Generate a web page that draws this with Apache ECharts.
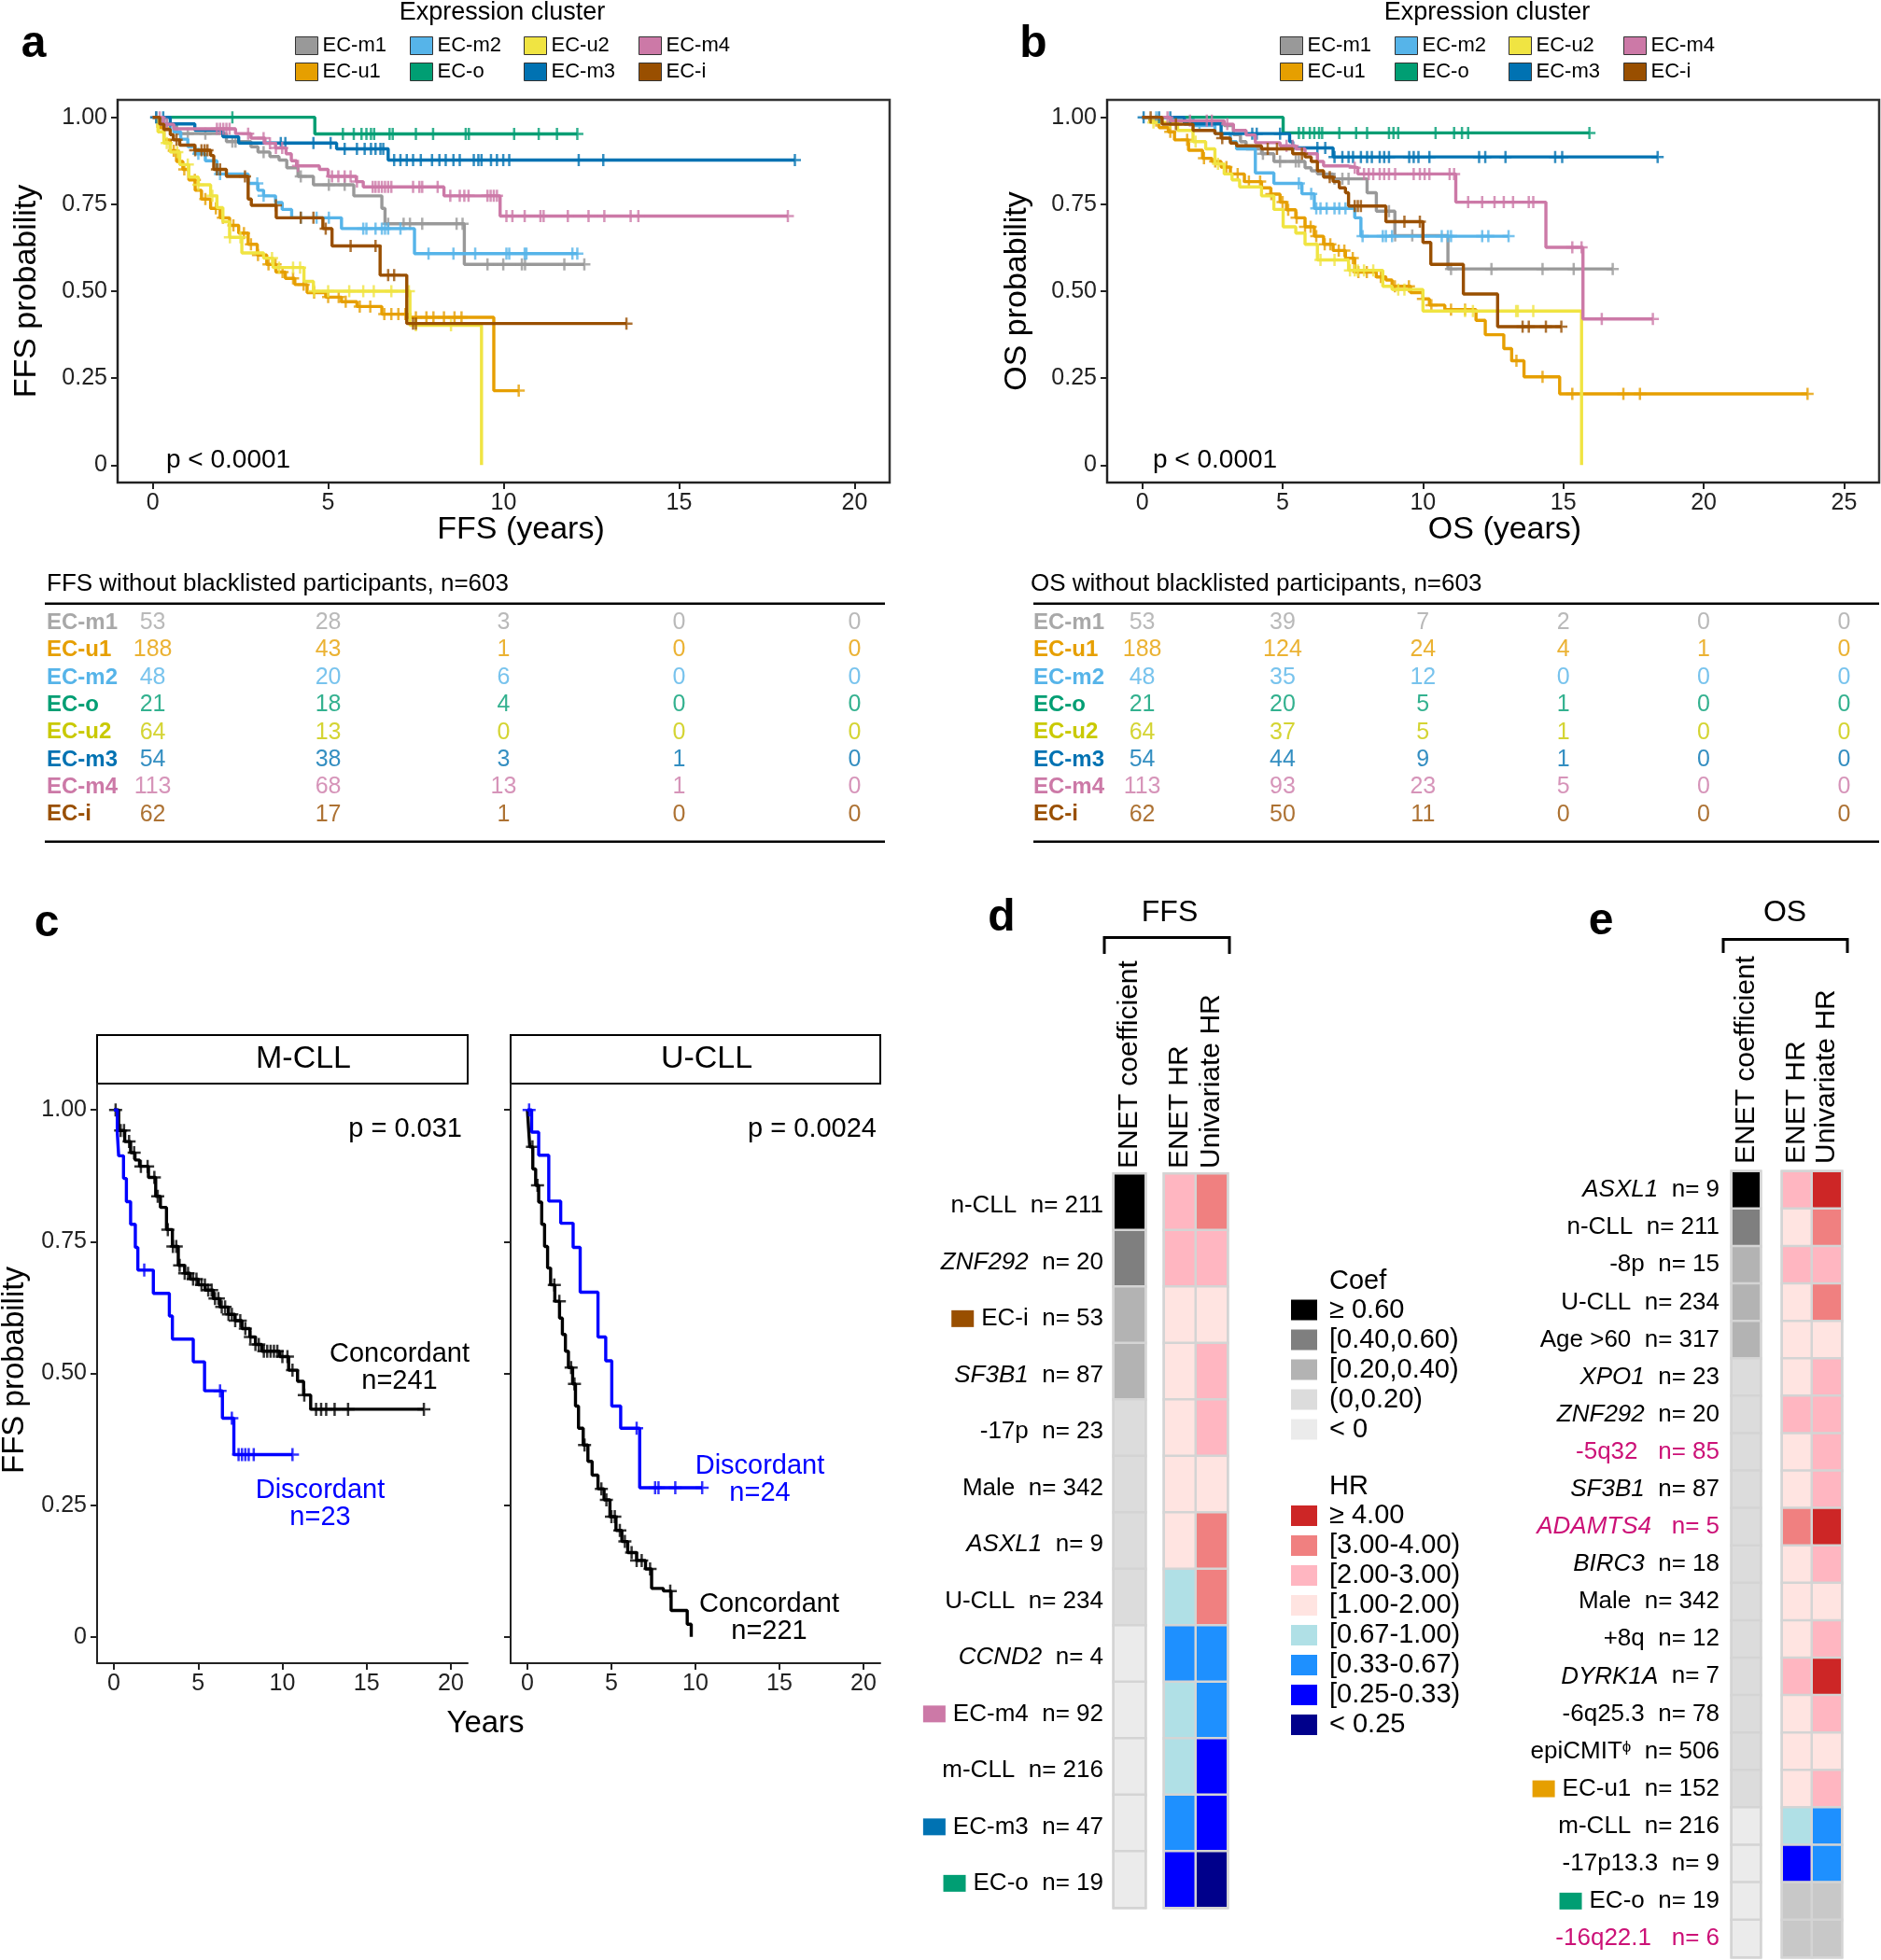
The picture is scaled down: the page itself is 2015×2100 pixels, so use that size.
<!DOCTYPE html>
<html><head><meta charset="utf-8">
<script src="https://cdn.jsdelivr.net/npm/echarts@6/dist/echarts.min.js"></script>
<style>html,body{margin:0;padding:0;background:#fff}#c{width:2015px;height:2100px}</style>
</head><body><div id="c"></div>
<script>
// ---------------- DATA ----------------
const CLUSTERS = ['EC-m1','EC-u1','EC-m2','EC-o','EC-u2','EC-m3','EC-m4','EC-i'];
const CL_COLORS = ['#999999','#E69F00','#56B4E9','#009E73','#F0E442','#0072B2','#CC79A7','#994F00'];
const TABLE_COLORS = ['#A8A8A8','#E69F00','#56B4E9','#009E73','#C9C900','#0072B2','#CC79A7','#994F00'];

// Panel a: FFS Kaplan-Meier (time in years, survival, censor times)
const FFS_M1_T = [0,0.3,0.68,2.1,2.8,3.0,3.34,3.6,3.82,4.14,4.58,5.73,6.53,6.62,8.88];
const FFS_M1_S = [1,0.98,0.953,0.93,0.915,0.9,0.887,0.877,0.855,0.83,0.806,0.774,0.738,0.694,0.577];
const FFS_M1_C = [0.1,0.4,1.0,1.5,2.27,2.36,3.16,4.22,5.02,5.47,6.71,7.15,7.33,7.68,8.66,8.83,9.54,9.99,10.52,10.61,11.73,12.3];
const FFS_U1_T = [0,0.15,0.32,0.5,0.68,0.86,1.03,1.21,1.39,1.65,1.92,2.19,2.45,2.72,2.98,3.25,3.51,3.78,4.05,4.4,4.93,5.38,5.82,6.53,7.24,9.72];
const FFS_U1_S = [1,0.97,0.935,0.904,0.873,0.85,0.82,0.79,0.765,0.738,0.711,0.689,0.667,0.635,0.604,0.577,0.555,0.537,0.519,0.496,0.483,0.47,0.456,0.434,0.425,0.214];
const FFS_U1_C = [0.3,0.6,0.9,1.2,1.5,1.8,2.0,2.3,2.6,2.8,3.0,3.3,3.5,3.7,4.0,4.3,4.6,5.0,5.3,5.5,5.9,6.2,6.6,6.8,7.0,7.2,7.5,7.8,8.0,8.3,8.6,8.8,10.43];
const FFS_M2_T = [0,0.3,0.6,0.8,1.0,1.2,1.5,1.83,2.72,3.0,3.16,3.5,3.69,3.96,5.38,7.46];
const FFS_M2_S = [1,0.979,0.958,0.937,0.916,0.895,0.875,0.837,0.81,0.79,0.774,0.755,0.735,0.711,0.68,0.608];
const FFS_M2_C = [1.3,1.92,2.98,3.16,4.22,4.67,5.02,6.0,6.09,6.35,6.53,6.62,6.71,7.06,7.86,8.57,9.19,10.08,10.16,10.6,10.65,11.96,12.1];
const FFS_O_T = [0,4.62];
const FFS_O_S = [1,0.952];
const FFS_O_C = [2.27,5.42,5.73,5.95,6.09,6.22,6.31,6.75,6.84,7.5,7.99,8.92,9.01,10.3,11.0,11.52,12.1];
const FFS_U2_T = [0,0.15,0.32,0.5,0.77,1.03,1.3,1.65,1.83,2.0,2.19,2.54,3.16,3.43,4.31,4.58,7.33,9.37];
const FFS_U2_S = [1,0.958,0.926,0.9,0.864,0.828,0.806,0.774,0.74,0.70,0.655,0.61,0.595,0.568,0.528,0.5,0.402,0];
const FFS_U2_C = [0.4,0.7,1.0,1.3,1.7,2.2,2.5,3.4,3.6,4.0,4.2,4.6,5.0,5.6,6.0,6.3,6.8,7.3,7.5,8.5];
const FFS_M3_T = [0,0.5,1.2,2.0,2.45,5.24,6.71];
const FFS_M3_S = [1,0.981,0.963,0.944,0.926,0.909,0.877];
const FFS_M3_C = [0.1,0.3,0.5,3.65,3.78,4.58,5.07,5.47,5.82,6.04,6.22,6.35,6.49,6.57,6.88,7.06,7.24,7.42,7.64,7.96,8.17,8.35,8.57,8.75,9.15,9.28,9.37,9.64,9.81,9.99,10.16,12.14,12.84,18.3];
const FFS_M4_T = [0,0.3,0.6,2.36,2.8,3.2,3.5,3.8,3.95,4.1,4.75,5.0,5.8,6.0,8.3,9.9];
const FFS_M4_S = [1,0.98,0.967,0.953,0.94,0.925,0.912,0.895,0.875,0.86,0.85,0.83,0.815,0.80,0.774,0.716];
const FFS_M4_C = [0.2,0.4,1.83,1.92,2.01,2.1,2.19,2.72,3.16,3.34,3.51,3.69,4.14,5.11,5.29,5.47,5.64,5.82,6.27,6.35,6.44,6.53,6.62,6.71,6.8,7.42,7.6,7.68,8.12,8.48,8.75,8.88,9.0,9.54,9.63,9.72,9.81,10.08,10.25,10.6,11.05,11.14,11.83,12.42,12.87,13.62,13.84,18.1];
const FFS_I_T = [0,0.2,0.32,0.5,0.59,0.77,1.2,1.65,1.74,2.1,2.72,2.81,3.52,4.85,5.11,6.48,7.24];
const FFS_I_S = [1,0.98,0.965,0.95,0.935,0.92,0.905,0.89,0.85,0.83,0.765,0.747,0.711,0.68,0.63,0.546,0.407];
const FFS_I_C = [0.68,1.21,1.39,1.48,1.56,1.83,1.92,2.63,3.51,4.22,4.58,4.93,5.64,6.35,6.71,6.88,7.42,7.5,13.5];

// Panel b: OS Kaplan-Meier
const OS_M1_T = [0,1.5,2.92,3.25,3.5,3.7,4.25,4.69,5.8,6.02,6.24,6.8,8.01,8.34,9.0,10.89];
const OS_M1_S = [1,0.985,0.976,0.95,0.93,0.909,0.895,0.873,0.855,0.846,0.837,0.823,0.783,0.73,0.66,0.564];
const OS_M1_C = [4.3,4.91,5.47,5.58,6.85,7.13,7.35,8.79,9.01,9.62,11.0,12.44,14.26,15.37,16.76];
const OS_U1_T = [0,0.27,0.6,0.93,1.15,1.65,2.15,2.48,2.81,3.14,3.64,4.25,4.58,4.91,5.14,5.47,5.8,6.13,6.46,6.8,7.24,7.57,8.34,8.68,8.9,9.56,10.0,10.23,10.78,11.89,12.22,12.88,13.16,13.6,14.87];
const OS_U1_S = [1,0.99,0.97,0.958,0.935,0.905,0.882,0.873,0.857,0.837,0.815,0.797,0.779,0.756,0.734,0.711,0.685,0.658,0.635,0.617,0.595,0.555,0.541,0.532,0.514,0.496,0.478,0.46,0.447,0.416,0.375,0.335,0.30,0.254,0.205];
const OS_U1_C = [0.5,1.0,1.6,2.2,2.6,3.0,3.4,3.8,4.2,4.6,5.0,5.2,5.5,5.8,6.0,6.2,6.5,6.7,7.0,7.2,7.5,7.7,8.0,8.5,9.0,9.5,10.0,10.3,11.0,11.5,13.33,14.26,15.32,17.14,17.73,23.7];
const OS_M2_T = [0,1.81,2.59,3.14,3.36,4.03,4.69,5.69,6.13,7.57,7.79];
const OS_M2_S = [1,0.976,0.953,0.93,0.909,0.84,0.81,0.78,0.738,0.711,0.658];
const OS_M2_C = [0.5,2.04,5.58,6.02,6.2,6.35,6.57,6.85,7.02,7.24,7.85,8.57,8.68,8.9,10.0,10.67,10.89,11.0,12.11,12.33,13.05];
const OS_O_T = [0,5.02];
const OS_O_S = [1,0.955];
const OS_O_C = [5.58,5.74,5.97,6.13,6.3,6.41,7.02,7.62,8.01,8.79,8.95,9.12,10.45,11.11,11.39,11.61,15.93];
const OS_U2_T = [0,0.3,1.26,1.81,2.26,2.59,2.92,3.2,3.47,4.25,4.69,5.02,5.47,5.8,6.24,7.35,8.57,8.9,10.0,15.65];
const OS_U2_S = [1,0.985,0.962,0.93,0.909,0.866,0.837,0.82,0.80,0.774,0.735,0.685,0.667,0.635,0.59,0.56,0.514,0.505,0.443,0];
const OS_U2_C = [0.4,1.0,1.9,2.7,6.35,6.85,7.4,7.57,7.68,7.9,8.23,9.12,9.34,11.5,11.78,13.32,13.38,13.93];
const OS_M3_T = [0,1.5,2.81,5.25,5.36,6.8];
const OS_M3_S = [1,0.981,0.953,0.93,0.912,0.886];
const OS_M3_C = [0.05,0.6,1.0,3.92,4.08,4.91,6.24,6.52,6.85,7.13,7.35,7.51,7.79,8.01,8.18,8.46,8.62,8.79,9.51,9.67,9.84,10.23,12.0,12.22,12.94,14.71,14.96,18.36];
const OS_M4_T = [0,1.0,2.92,3.25,3.7,4.03,4.91,5.47,5.8,6.24,6.46,7.35,7.68,11.17,14.38,15.7];
const OS_M4_S = [1,0.99,0.98,0.962,0.949,0.927,0.918,0.909,0.895,0.873,0.86,0.855,0.837,0.756,0.626,0.42];
const OS_M4_C = [0.9,1.7,2.3,2.48,3.03,5.14,5.36,7.57,7.9,8.07,8.23,8.46,8.62,8.79,9.01,9.67,9.89,10.06,10.23,10.95,11.11,11.61,12.11,12.55,12.88,13.21,13.77,13.93,15.32,15.65,16.37,18.19];
const OS_I_T = [0,0.71,1.81,2.59,2.81,3.14,3.36,4.25,5.36,5.8,6.02,6.24,6.46,6.8,7.02,7.24,7.35,8.68,10.0,10.28,11.44,12.66];
const OS_I_S = [1,0.98,0.962,0.953,0.94,0.926,0.918,0.909,0.895,0.886,0.873,0.846,0.828,0.815,0.797,0.783,0.745,0.70,0.64,0.577,0.492,0.398];
const OS_I_C = [0.3,1.2,2.85,4.47,4.8,5.69,6.68,7.57,7.68,7.79,9.34,9.89,13.55,13.77,14.38,14.93];

// Numbers at risk
const FFS_RISK_TIMES = [0,5,10,15,20];
const FFS_RISK = [[53,28,3,0,0],[188,43,1,0,0],[48,20,6,0,0],[21,18,4,0,0],[64,13,0,0,0],[54,38,3,1,0],[113,68,13,1,0],[62,17,1,0,0]];
const OS_RISK_TIMES = [0,5,10,15,20,25];
const OS_RISK = [[53,39,7,2,0,0],[188,124,24,4,1,0],[48,35,12,0,0,0],[21,20,5,1,0,0],[64,37,5,1,0,0],[54,44,9,1,0,0],[113,93,23,5,0,0],[62,50,11,0,0,0]];

// Panel c: M-CLL / U-CLL concordant vs discordant
const M_CON_T = [0,0.28,0.64,0.99,1.25,1.52,2.05,2.48,2.76,3.12,3.47,3.82,4.2,4.53,5.0,5.42,5.9,6.3,6.8,7.19,7.6,8.07,8.4,8.78,9.84,10.37,10.9,11.26,11.68];
const M_CON_S = [1,0.961,0.94,0.919,0.905,0.893,0.872,0.836,0.815,0.773,0.741,0.705,0.69,0.679,0.668,0.658,0.642,0.626,0.612,0.60,0.585,0.569,0.555,0.542,0.532,0.506,0.485,0.459,0.432];
const M_CON_C = [0.1,0.4,0.6,0.9,1.2,1.6,2.0,2.4,2.6,3.2,3.5,3.7,3.9,4.2,4.4,4.7,4.9,5.2,5.4,5.6,5.8,6.0,6.2,6.4,6.6,6.8,7.0,7.2,7.5,7.8,8.1,8.4,8.6,8.9,9.1,9.3,9.5,9.7,10.0,10.3,10.6,11.3,12.0,12.3,12.6,13.1,13.9,18.4];
const M_DIS_T = [0,0.2,0.28,0.57,0.74,0.99,1.27,1.42,2.34,3.29,3.47,4.71,5.38,6.44,7.12];
const M_DIS_S = [1,0.957,0.913,0.870,0.826,0.783,0.739,0.696,0.652,0.609,0.565,0.522,0.467,0.415,0.346];
const M_DIS_C = [1.8,6.3,7.0,7.4,7.6,7.8,8.0,8.3,10.6];
const U_CON_T = [0,0.07,0.14,0.32,0.49,0.67,0.85,1.02,1.2,1.38,1.63,1.91,2.08,2.26,2.44,2.69,2.86,3.04,3.32,3.6,3.85,4.2,4.56,4.91,5.27,5.62,5.97,6.5,7.03,7.39,8.09,8.55,9.51,9.75];
const U_CON_S = [1,0.965,0.93,0.888,0.857,0.825,0.783,0.741,0.70,0.668,0.637,0.605,0.574,0.542,0.511,0.48,0.438,0.396,0.364,0.333,0.307,0.281,0.26,0.228,0.202,0.181,0.16,0.145,0.129,0.092,0.087,0.05,0.024,0];
const U_CON_C = [0.3,0.6,1.6,1.9,2.6,2.8,3.4,4.4,4.7,5.0,5.2,5.5,5.8,6.2,6.5,6.8,7.3,8.5];
const U_DIS_T = [0,0.25,0.67,1.27,1.98,2.72,3.14,4.2,4.66,5.02,5.55,6.68];
const U_DIS_S = [1,0.958,0.914,0.827,0.785,0.739,0.654,0.569,0.524,0.438,0.396,0.283];
const U_DIS_C = [0.1,6.5,7.6,7.8,8.8,10.4];

// Panel d: FFS heatmap (classes: coef 0..4 ; HR 0..7 ; -1 = NA)
const FFS_VARS = ['n-CLL','ZNF292','EC-i','SF3B1','-17p','Male','ASXL1','U-CLL','CCND2','EC-m4','m-CLL','EC-m3','EC-o'];
const FFS_N = [211,20,53,87,23,342,9,234,4,92,216,47,19];
const FFS_COEF = [0,1,2,2,3,3,3,3,4,4,4,4,4];
const FFS_ENET = [2,2,3,3,3,3,3,4,5,4,4,5,6];
const FFS_UNI = [1,2,3,2,2,3,1,1,5,5,6,6,7];
// Panel e: OS heatmap
const OS_VARS = ['ASXL1','n-CLL','-8p','U-CLL','Age >60','XPO1','ZNF292','-5q32','SF3B1','ADAMTS4','BIRC3','Male','+8q','DYRK1A','-6q25.3','epiCMIT','EC-u1','m-CLL','-17p13.3','EC-o','-16q22.1'];
const OS_N = [9,211,15,234,317,23,20,85,87,5,18,342,12,7,78,506,152,216,9,19,6];
const OS_COEF = [0,1,2,2,2,3,3,3,3,3,3,3,3,3,3,3,3,4,4,4,4];
const OS_ENET = [2,3,2,3,3,3,2,3,3,1,3,3,3,2,3,3,3,4,6,-1,-1];
const OS_UNI = [0,1,2,1,3,2,2,2,2,0,2,3,2,0,2,3,2,5,5,-1,-1];
const GENES = ['ZNF292','SF3B1','ASXL1','CCND2','XPO1','ADAMTS4','BIRC3','DYRK1A'];
const HIGHLIGHT = ['-5q32','ADAMTS4','-16q22.1'];
const HM_COLS_COEF = ['ENET coefficient'];
const HM_COLS_HR = ['ENET HR','Univariate HR'];
const COEF_LABELS = ['≥ 0.60','[0.40,0.60)','[0.20,0.40)','(0,0.20)','< 0'];
const COEF_COLORS = ['#000000','#7F7F7F','#B3B3B3','#DCDCDC','#EBEBEB'];
const HR_LABELS = ['≥ 4.00','[3.00-4.00)','[2.00-3.00)','[1.00-2.00)','[0.67-1.00)','[0.33-0.67)','[0.25-0.33)','< 0.25'];
const HR_COLORS = ['#CD2626','#F08080','#FFB6C1','#FFE4E1','#B0E0E6','#1E90FF','#0000FF','#00008B'];

// ---------------- BUILD ----------------
const F = "'Liberation Sans', Arial, Helvetica, sans-serif";
const PLUS = 'path://M0,6L12,6M6,0L6,12';
const FFS_CURVES = [[FFS_M1_T,FFS_M1_S,FFS_M1_C],[FFS_U1_T,FFS_U1_S,FFS_U1_C],[FFS_M2_T,FFS_M2_S,FFS_M2_C],[FFS_O_T,FFS_O_S,FFS_O_C],[FFS_U2_T,FFS_U2_S,FFS_U2_C],[FFS_M3_T,FFS_M3_S,FFS_M3_C],[FFS_M4_T,FFS_M4_S,FFS_M4_C],[FFS_I_T,FFS_I_S,FFS_I_C]];
const OS_CURVES = [[OS_M1_T,OS_M1_S,OS_M1_C],[OS_U1_T,OS_U1_S,OS_U1_C],[OS_M2_T,OS_M2_S,OS_M2_C],[OS_O_T,OS_O_S,OS_O_C],[OS_U2_T,OS_U2_S,OS_U2_C],[OS_M3_T,OS_M3_S,OS_M3_C],[OS_M4_T,OS_M4_S,OS_M4_C],[OS_I_T,OS_I_S,OS_I_C]];

function survAt(T,S,t){let s=S[0];for(let i=0;i<T.length;i++){if(T[i]<=t)s=S[i];else break;}return s;}
function kmData(T,S,C){const d=T.map((t,i)=>[t,S[i]]);const last=T[T.length-1];const end=Math.max(last,...C);if(end>last)d.push([end,S[S.length-1]]);return d;}
function censData(T,S,C){return C.map(t=>[t,survAt(T,S,t)]);}

const series = [];
function addKM(name,curve,color,xi,yi,z,size){
  series.push({type:'line',name,xAxisIndex:xi,yAxisIndex:yi,data:kmData(curve[0],curve[1],curve[2]),step:'end',showSymbol:false,symbol:'none',
    lineStyle:{width:3.4,color},itemStyle:{color},z,emphasis:{disabled:true},silent:true});
  series.push({type:'scatter',name,xAxisIndex:xi,yAxisIndex:yi,data:censData(curve[0],curve[1],curve[2]),symbol:PLUS,symbolSize:size,
    itemStyle:{color:'none',borderColor:color,borderWidth:2.5},z,emphasis:{disabled:true},silent:true});
}
CLUSTERS.forEach((n,k)=>addKM(n,FFS_CURVES[k],CL_COLORS[k],0,0,2+k,13));
CLUSTERS.forEach((n,k)=>addKM(n,OS_CURVES[k],CL_COLORS[k],1,1,2+k,13));
// risk tables
CLUSTERS.forEach((n,k)=>{
  series.push({type:'scatter',name:'riskFFS',xAxisIndex:2,yAxisIndex:2,data:FFS_RISK_TIMES.map((t,j)=>[t,n,FFS_RISK[k][j]]),
    symbolSize:1,itemStyle:{color:'transparent'},silent:true,
    label:{show:true,position:'inside',formatter:p=>String(p.value[2]),color:TABLE_COLORS[k],fontSize:25,fontFamily:F}});
  series.push({type:'scatter',name:'riskOS',xAxisIndex:3,yAxisIndex:3,data:OS_RISK_TIMES.map((t,j)=>[t,n,OS_RISK[k][j]]),
    symbolSize:1,itemStyle:{color:'transparent'},silent:true,
    label:{show:true,position:'inside',formatter:p=>String(p.value[2]),color:TABLE_COLORS[k],fontSize:25,fontFamily:F}});
});
// panel c
addKM('M Concordant',[M_CON_T,M_CON_S,M_CON_C],'#000000',4,4,3,14);
addKM('M Discordant',[M_DIS_T,M_DIS_S,M_DIS_C],'#0000FF',4,4,4,14);
addKM('U Concordant',[U_CON_T,U_CON_S,U_CON_C],'#000000',5,5,3,14);
addKM('U Discordant',[U_DIS_T,U_DIS_S,U_DIS_C],'#0000FF',5,5,4,14);
// heatmaps
const hmStyle = {borderColor:'#D4D4D4',borderWidth:2.5};
const iD1 = series.length;
series.push({type:'heatmap',name:'ffsCoef',xAxisIndex:6,yAxisIndex:6,data:FFS_VARS.map((v,i)=>[0,i,FFS_COEF[i]]),itemStyle:hmStyle,emphasis:{disabled:true},silent:true});
const iD2 = series.length;
series.push({type:'heatmap',name:'ffsHR',xAxisIndex:7,yAxisIndex:7,data:FFS_VARS.flatMap((v,i)=>[[0,i,FFS_ENET[i]],[1,i,FFS_UNI[i]]]),itemStyle:hmStyle,emphasis:{disabled:true},silent:true});
const iE1 = series.length;
series.push({type:'heatmap',name:'osCoef',xAxisIndex:8,yAxisIndex:8,data:OS_VARS.map((v,i)=>[0,i,OS_COEF[i]]),itemStyle:hmStyle,emphasis:{disabled:true},silent:true});
const iE2 = series.length;
series.push({type:'heatmap',name:'osHR',xAxisIndex:9,yAxisIndex:9,data:OS_VARS.flatMap((v,i)=>[[0,i,OS_ENET[i]],[1,i,OS_UNI[i]]]),itemStyle:hmStyle,emphasis:{disabled:true},silent:true});

// axes helpers
const AX = '#222';
function kmX(g,min,max,ticks,show=true){return {type:'value',gridIndex:g,min,max,show,
  axisLine:{show:true,onZero:false,lineStyle:{color:AX,width:2}},
  axisTick:{show:true,length:7,lineStyle:{color:AX,width:2},customValues:ticks},
  axisLabel:{customValues:ticks,fontSize:25,fontFamily:F,color:AX,margin:10},splitLine:{show:false}};}
const YT=[0,0.25,0.5,0.75,1];
function kmY(g,labels){return {type:'value',gridIndex:g,min:-0.05,max:1.05,
  axisLine:{show:true,onZero:false,lineStyle:{color:AX,width:2}},
  axisTick:{show:true,length:7,lineStyle:{color:AX,width:2},customValues:YT},
  axisLabel:{show:labels,customValues:YT,formatter:v=>v===0?'0':v.toFixed(2),fontSize:25,fontFamily:F,color:AX,margin:11},splitLine:{show:false}};}

const tableRich = {};
TABLE_COLORS.forEach((c,k)=>{tableRich['r'+k]={color:c,fontWeight:'bold',fontSize:24,fontFamily:F};});
function tableY(g,margin){return {type:'category',gridIndex:g,data:CLUSTERS,inverse:true,axisLine:{show:false},axisTick:{show:false},splitLine:{show:false},
  axisLabel:{align:'left',margin,formatter:(v,i)=>'{r'+i+'|'+v+'}',rich:tableRich}};}

const SW = {'EC-i':['swi','#994F00'],'EC-m4':['swm4','#CC79A7'],'EC-m3':['swm3','#0072B2'],'EC-o':['swo','#009E73'],'EC-u1':['swu1','#E69F00']};
const rowRich = {
  t:{fontSize:26,fontFamily:F,color:'#000',verticalAlign:'middle'},
  it:{fontSize:26,fontFamily:F,fontStyle:'italic',color:'#000',verticalAlign:'middle'},
  mg:{fontSize:26,fontFamily:F,color:'#CC1177',verticalAlign:'middle'},
  mgit:{fontSize:26,fontFamily:F,fontStyle:'italic',color:'#CC1177',verticalAlign:'middle'},
  sup:{fontSize:17,fontFamily:F,color:'#000',verticalAlign:'top'},
  gap:{width:8}
};
Object.values(SW).forEach(([k,c])=>{rowRich[k]={width:24,height:18,backgroundColor:c,verticalAlign:'middle'};});
function rowLabel(v,n){
  const hl = HIGHLIGHT.includes(v);
  let name;
  if (GENES.includes(v)) name = hl?'{mgit|'+v+'}':'{it|'+v+'}';
  else if (v==='epiCMIT') name = '{t|epiCMIT}{sup|ϕ}';
  else name = hl?'{mg|'+v+'}':'{t|'+v+'}';
  const nn = hl?'{mg|   n= '+n+'}':'{t|  n= '+n+'}';
  const sw = SW[v]?'{'+SW[v][0]+'|}{gap|}':'';
  return sw+name+nn;
}
function hmX(g,cats){return {type:'category',gridIndex:g,data:cats,position:'top',axisLine:{show:false},axisTick:{show:false},splitLine:{show:false},
  axisLabel:{show:false}};}
function hmY(g,vars,nArr,show,margin,pad){return {type:'category',gridIndex:g,data:vars,inverse:true,axisLine:{show:false},axisTick:{show:false},splitLine:{show:false},
  axisLabel:{show:show,margin,interval:0,padding:pad,formatter:(v,i)=>rowLabel(v,nArr[i]),rich:rowRich}};}

// graphic helpers
function T(x,y,text,size,o={}){return {type:'text',x,y,rotation:o.rot||0,silent:true,z:100,
  style:{text,fill:o.color||'#000',fontSize:size,fontFamily:F,fontWeight:o.bold?'bold':'normal',fontStyle:o.italic?'italic':'normal',
  textAlign:o.align||'left',align:o.align||'left',textVerticalAlign:'middle',verticalAlign:'middle',lineHeight:o.lh||size*1.05}};}
function L(x1,y1,x2,y2,w=2.5){return {type:'line',silent:true,shape:{x1,y1,x2,y2},style:{stroke:'#000',lineWidth:w}};}
function PL(pts,w=3){return {type:'polyline',silent:true,shape:{points:pts},style:{stroke:'#000',lineWidth:w,fill:null}};}
function R(x,y,w,h){return {type:'rect',silent:true,shape:{x,y,width:w,height:h},style:{fill:'#fff',stroke:'#000',lineWidth:2}};}
const R90 = Math.PI/2;
// heatmap column headers (rotated, reading upwards from the top of each column)
function colHeaders(left,cellW,cols,bottom){return cols.map((c,i)=>T(left+cellW*(i+0.5),bottom,c,30,{rot:R90}));}
const graphic = [
  T(36,48,'a',48,{bold:true,align:'center'}), T(1107,48,'b',48,{bold:true,align:'center'}),
  T(50,990,'c',48,{bold:true,align:'center'}), T(1073,984,'d',48,{bold:true,align:'center'}), T(1715,988,'e',48,{bold:true,align:'center'}),
  T(538,14,'Expression cluster',27,{align:'center'}), T(1593,14,'Expression cluster',27,{align:'center'}),
  T(29,312,'FFS probability',34,{align:'center',rot:R90}), T(1090,312,'OS probability',34,{align:'center',rot:R90}),
  T(558,568,'FFS (years)',34,{align:'center'}), T(1612,568,'OS (years)',34,{align:'center'}),
  T(178,493,'p < 0.0001',28), T(1235,493,'p < 0.0001',28),
  T(50,626,'FFS without blacklisted participants, n=603',26), T(1104,626,'OS without blacklisted participants, n=603',26),
  L(48,646.7,948,646.7), L(48,901.7,948,901.7), L(1107,646.7,2013,646.7), L(1107,901.7,2013,901.7),
  R(104,1109,397,52), R(547,1109,396,52),
  T(325,1135,'M-CLL',34,{align:'center'}), T(757,1135,'U-CLL',34,{align:'center'}),
  T(16,1468,'FFS probability',33,{align:'center',rot:R90}), T(520,1847,'Years',33,{align:'center'}),
  T(495,1210,'p = 0.031',29,{align:'right'}), T(939,1210,'p = 0.0024',29,{align:'right'}),
  T(428,1465,'Concordant\nn=241',29,{align:'center',lh:29}), T(343,1611,'Discordant\nn=23',29,{align:'center',color:'#0000FF',lh:29}),
  T(814,1585,'Discordant\nn=24',29,{align:'center',color:'#0000FF',lh:29}), T(824,1733,'Concordant\nn=221',29,{align:'center',lh:29}),
  T(1253,978,'FFS',32,{align:'center'}), PL([[1183,1022],[1183,1004.5],[1317,1004.5],[1317,1022]]),
  T(1912,978,'OS',32,{align:'center'}), PL([[1846,1021],[1846,1006.6],[1979,1006.6],[1979,1021]]),
  T(1424,1373,'Coef',29), T(1424,1593,'HR',29),
  ...colHeaders(1193,34,HM_COLS_COEF,1252), ...colHeaders(1247,34,HM_COLS_HR,1252),
  ...colHeaders(1855,31,HM_COLS_COEF,1247), ...colHeaders(1909,32,HM_COLS_HR,1247)
];

// legends (two rows, column-major like the original)
const LEG_ORDER = [['EC-m1','EC-m2','EC-u2','EC-m4'],['EC-u1','EC-o','EC-m3','EC-i']];
const legends = [];
[[316,439,561,684],[1371,1494,1616,1739]].forEach(xs=>{
  LEG_ORDER.forEach((row,r)=>row.forEach((nm,c)=>{
    legends.push({data:[nm],left:xs[c],top:r===0?38:66,padding:0,icon:'rect',itemWidth:24,itemHeight:19,
      itemStyle:{borderColor:'#333',borderWidth:1},textStyle:{fontSize:22,fontFamily:F,color:'#000'}});
  }));
});

const vmBase = {type:'piecewise',dimension:2,orient:'vertical',left:1383,padding:0,itemWidth:28,itemHeight:22,itemGap:2,textGap:13,
  align:'left',inverse:true,itemSymbol:'rect',selectedMode:false,showLabel:true,
  textStyle:{fontSize:29,fontFamily:F,color:'#000',lineHeight:30},outOfRange:{color:'#C8C8C8'}};
const gridBase = {show:false,containLabel:false,outerBoundsMode:'none'};
const option = {
  animation:false,
  backgroundColor:'#fff',
  textStyle:{fontFamily:F},
  legend:legends,
  grid:[
    {...gridBase,left:126,top:107,width:827,height:410,show:true,borderColor:'#333',borderWidth:2.5},
    {...gridBase,left:1186,top:107,width:827,height:410,show:true,borderColor:'#333',borderWidth:2.5},
    {...gridBase,left:126,top:652.6,width:827,height:234.7},
    {...gridBase,left:1186,top:652.6,width:827,height:234.7},
    {...gridBase,left:104,top:1161,width:397,height:621},
    {...gridBase,left:547,top:1161,width:396,height:621},
    {...gridBase,left:1193,top:1257.6,width:34,height:786.5,show:true,borderColor:'#D4D4D4',borderWidth:3},
    {...gridBase,left:1247,top:1257.6,width:68,height:786.5,show:true,borderColor:'#D4D4D4',borderWidth:3},
    {...gridBase,left:1855,top:1255,width:31,height:842,show:true,borderColor:'#D4D4D4',borderWidth:3},
    {...gridBase,left:1909,top:1255,width:64,height:842,show:true,borderColor:'#D4D4D4',borderWidth:3}
  ],
  xAxis:[
    kmX(0,-1,21,[0,5,10,15,20]),
    kmX(1,-1.25,26.25,[0,5,10,15,20,25]),
    {type:'value',gridIndex:2,min:-1,max:21,show:false},
    {type:'value',gridIndex:3,min:-1.25,max:26.25,show:false},
    kmX(4,-1,21,[0,5,10,15,20]),
    kmX(5,-1,21,[0,5,10,15,20]),
    hmX(6,HM_COLS_COEF), hmX(7,HM_COLS_HR), hmX(8,HM_COLS_COEF), hmX(9,HM_COLS_HR)
  ],
  yAxis:[
    kmY(0,true), kmY(1,true),
    tableY(2,76), tableY(3,79),
    kmY(4,true), kmY(5,false),
    hmY(6,FFS_VARS,FFS_N,true,11,[8,0,0,0]), hmY(7,FFS_VARS,FFS_N,false,0,0),
    hmY(8,OS_VARS,OS_N,true,13,0), hmY(9,OS_VARS,OS_N,false,0,0)
  ],
  visualMap:[
    {...vmBase,seriesIndex:[iD1,iE1],top:1388.5,pieces:COEF_LABELS.map((l,i)=>({value:i,label:l,color:COEF_COLORS[i]}))},
    {...vmBase,seriesIndex:[iD2,iE2],top:1609,pieces:HR_LABELS.map((l,i)=>({value:i,label:l,color:HR_COLORS[i]}))}
  ],
  graphic:graphic,
  series:series
};
const chart = echarts.init(document.getElementById('c'),null,{renderer:'canvas',width:2015,height:2100});
chart.setOption(option);
</script></body></html>
